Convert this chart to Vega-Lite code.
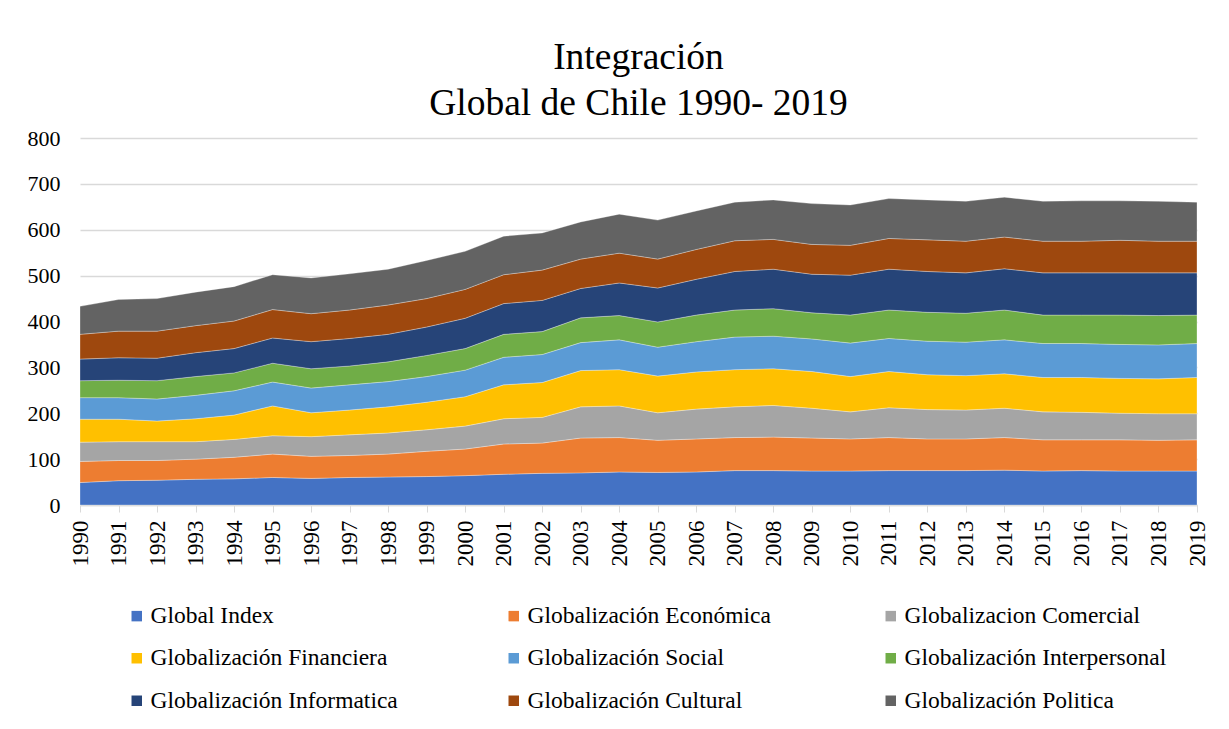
{
  "$schema": "https://vega.github.io/schema/vega-lite/v6.json",
  "width": 1117,
  "height": 367,
  "autosize": {"type": "none"},
  "padding": {"left": 80, "top": 138, "right": 32, "bottom": 224},
  "background": "white",
  "title": {
    "text": ["Integración", "Global de Chile 1990- 2019"],
    "font": "Times New Roman, Liberation Serif, serif",
    "fontSize": 37.5,
    "fontWeight": "normal",
    "color": "#000000",
    "lineHeight": 46,
    "anchor": "middle",
    "offset": 5
  },
  "datasets": {
    "vals": [
      {"year": "1990", "gi": 49, "eco": 46, "com": 42, "fin": 50, "soc": 47, "inter": 37, "info": 47, "cul": 54, "pol": 61},
      {"year": "1991", "gi": 53, "eco": 44, "com": 41, "fin": 49, "soc": 47, "inter": 38, "info": 49, "cul": 58, "pol": 69},
      {"year": "1992", "gi": 54, "eco": 43, "com": 41, "fin": 45, "soc": 48, "inter": 40, "info": 49, "cul": 59, "pol": 71},
      {"year": "1993", "gi": 56, "eco": 44, "com": 38, "fin": 50, "soc": 51, "inter": 41, "info": 52, "cul": 59, "pol": 73},
      {"year": "1994", "gi": 57, "eco": 47, "com": 39, "fin": 53, "soc": 53, "inter": 39, "info": 53, "cul": 60, "pol": 75},
      {"year": "1995", "gi": 60, "eco": 51, "com": 40, "fin": 65, "soc": 52, "inter": 41, "info": 55, "cul": 62, "pol": 76},
      {"year": "1996", "gi": 58, "eco": 48, "com": 43, "fin": 52, "soc": 54, "inter": 42, "info": 59, "cul": 61, "pol": 78},
      {"year": "1997", "gi": 60, "eco": 48, "com": 45, "fin": 54, "soc": 55, "inter": 41, "info": 60, "cul": 62, "pol": 79},
      {"year": "1998", "gi": 61, "eco": 50, "com": 46, "fin": 57, "soc": 55, "inter": 43, "info": 60, "cul": 64, "pol": 78},
      {"year": "1999", "gi": 62, "eco": 55, "com": 47, "fin": 60, "soc": 56, "inter": 46, "info": 62, "cul": 62, "pol": 83},
      {"year": "2000", "gi": 64, "eco": 58, "com": 50, "fin": 64, "soc": 58, "inter": 47, "info": 66, "cul": 63, "pol": 83},
      {"year": "2001", "gi": 67, "eco": 66, "com": 55, "fin": 74, "soc": 60, "inter": 50, "info": 67, "cul": 63, "pol": 84},
      {"year": "2002", "gi": 69, "eco": 66, "com": 56, "fin": 76, "soc": 61, "inter": 50, "info": 68, "cul": 66, "pol": 81},
      {"year": "2003", "gi": 70, "eco": 76, "com": 68, "fin": 79, "soc": 61, "inter": 54, "info": 64, "cul": 64, "pol": 81},
      {"year": "2004", "gi": 72, "eco": 75, "com": 69, "fin": 79, "soc": 65, "inter": 53, "info": 71, "cul": 65, "pol": 85},
      {"year": "2005", "gi": 71, "eco": 70, "com": 60, "fin": 80, "soc": 63, "inter": 55, "info": 74, "cul": 63, "pol": 85},
      {"year": "2006", "gi": 72, "eco": 72, "com": 65, "fin": 81, "soc": 66, "inter": 58, "info": 78, "cul": 65, "pol": 84},
      {"year": "2007", "gi": 75, "eco": 72, "com": 67, "fin": 81, "soc": 71, "inter": 59, "info": 84, "cul": 67, "pol": 84},
      {"year": "2008", "gi": 75, "eco": 73, "com": 69, "fin": 80, "soc": 71, "inter": 60, "info": 86, "cul": 65, "pol": 86},
      {"year": "2009", "gi": 74, "eco": 72, "com": 65, "fin": 80, "soc": 71, "inter": 57, "info": 84, "cul": 65, "pol": 89},
      {"year": "2010", "gi": 74, "eco": 70, "com": 59, "fin": 77, "soc": 73, "inter": 61, "info": 87, "cul": 65, "pol": 88},
      {"year": "2011", "gi": 75, "eco": 72, "com": 65, "fin": 79, "soc": 72, "inter": 62, "info": 89, "cul": 67, "pol": 87},
      {"year": "2012", "gi": 75, "eco": 69, "com": 64, "fin": 76, "soc": 73, "inter": 63, "info": 89, "cul": 69, "pol": 87},
      {"year": "2013", "gi": 75, "eco": 69, "com": 63, "fin": 75, "soc": 73, "inter": 63, "info": 88, "cul": 69, "pol": 87},
      {"year": "2014", "gi": 76, "eco": 71, "com": 64, "fin": 75, "soc": 74, "inter": 65, "info": 90, "cul": 69, "pol": 87},
      {"year": "2015", "gi": 74, "eco": 68, "com": 61, "fin": 75, "soc": 74, "inter": 62, "info": 92, "cul": 69, "pol": 87},
      {"year": "2016", "gi": 75, "eco": 67, "com": 60, "fin": 76, "soc": 74, "inter": 62, "info": 92, "cul": 69, "pol": 88},
      {"year": "2017", "gi": 74, "eco": 68, "com": 58, "fin": 76, "soc": 74, "inter": 64, "info": 92, "cul": 71, "pol": 86},
      {"year": "2018", "gi": 74, "eco": 67, "com": 58, "fin": 76, "soc": 74, "inter": 64, "info": 93, "cul": 69, "pol": 87},
      {"year": "2019", "gi": 74, "eco": 68, "com": 57, "fin": 79, "soc": 74, "inter": 62, "info": 92, "cul": 69, "pol": 85}
    ],
    "series": [
      {"key": "gi", "name": "Global Index", "idx": 1},
      {"key": "eco", "name": "Globalización Económica", "idx": 2},
      {"key": "com", "name": "Globalizacion Comercial", "idx": 3},
      {"key": "fin", "name": " Globalización Financiera", "idx": 4},
      {"key": "soc", "name": "Globalización Social", "idx": 5},
      {"key": "inter", "name": "Globalización Interpersonal", "idx": 6},
      {"key": "info", "name": "Globalización Informatica", "idx": 7},
      {"key": "cul", "name": "Globalización Cultural", "idx": 8},
      {"key": "pol", "name": "Globalización Politica", "idx": 9}
    ]
  },
  "data": {"name": "vals"},
  "transform": [
    {"fold": ["gi", "eco", "com", "fin", "soc", "inter", "info", "cul", "pol"], "as": ["key", "value"]},
    {"lookup": "key", "from": {"data": {"name": "series"}, "key": "key", "fields": ["name", "idx"]}}
  ],
  "mark": {"type": "area", "stroke": "#ffffff", "strokeWidth": 0.6, "strokeOpacity": 0.5, "interpolate": "linear"},
  "encoding": {
    "x": {
      "field": "year",
      "type": "ordinal",
      "scale": {"type": "point", "padding": 0},
      "axis": {
        "title": null,
        "labelAngle": -90,
        "labelFont": "Times New Roman, Liberation Serif, serif",
        "labelFontSize": 23,
        "labelColor": "#000000",
        "labelPadding": 8,
        "tickSize": 7,
        "tickColor": "#d9d9d9",
        "domainColor": "#d9d9d9",
        "domainWidth": 1.5,
        "grid": false
      }
    },
    "y": {
      "field": "value",
      "type": "quantitative",
      "stack": "zero",
      "scale": {"domain": [0, 800], "nice": false},
      "axis": {
        "title": null,
        "values": [0, 100, 200, 300, 400, 500, 600, 700, 800],
        "labelFont": "Times New Roman, Liberation Serif, serif",
        "labelFontSize": 22,
        "labelColor": "#000000",
        "labelPadding": 20,
        "ticks": false,
        "domain": false,
        "grid": true,
        "gridColor": "#d9d9d9",
        "gridWidth": 1.5
      }
    },
    "color": {
      "field": "name",
      "type": "nominal",
      "scale": {
        "domain": ["Global Index", "Globalización Económica", "Globalizacion Comercial", " Globalización Financiera", "Globalización Social", "Globalización Interpersonal", "Globalización Informatica", "Globalización Cultural", "Globalización Politica"],
        "range": ["#4472C4", "#ED7D31", "#A5A5A5", "#FFC000", "#5B9BD5", "#70AD47", "#264478", "#9E480E", "#636363"]
      },
      "legend": {
        "title": null,
        "orient": "none",
        "legendX": 45,
        "legendY": 466,
        "direction": "horizontal",
        "columns": 3,
        "gridAlign": "all",
        "columnPadding": 89,
        "rowPadding": 17.5,
        "symbolType": "square",
        "symbolSize": 110,
        "symbolStrokeWidth": 0,
        "labelFont": "Times New Roman, Liberation Serif, serif",
        "labelFontSize": 23.5,
        "labelColor": "#000000",
        "labelLimit": 400,
        "labelOffset": 2
      }
    },
    "order": {"field": "idx", "type": "quantitative", "sort": "ascending"}
  },
  "config": {"view": {"stroke": null}}
}
